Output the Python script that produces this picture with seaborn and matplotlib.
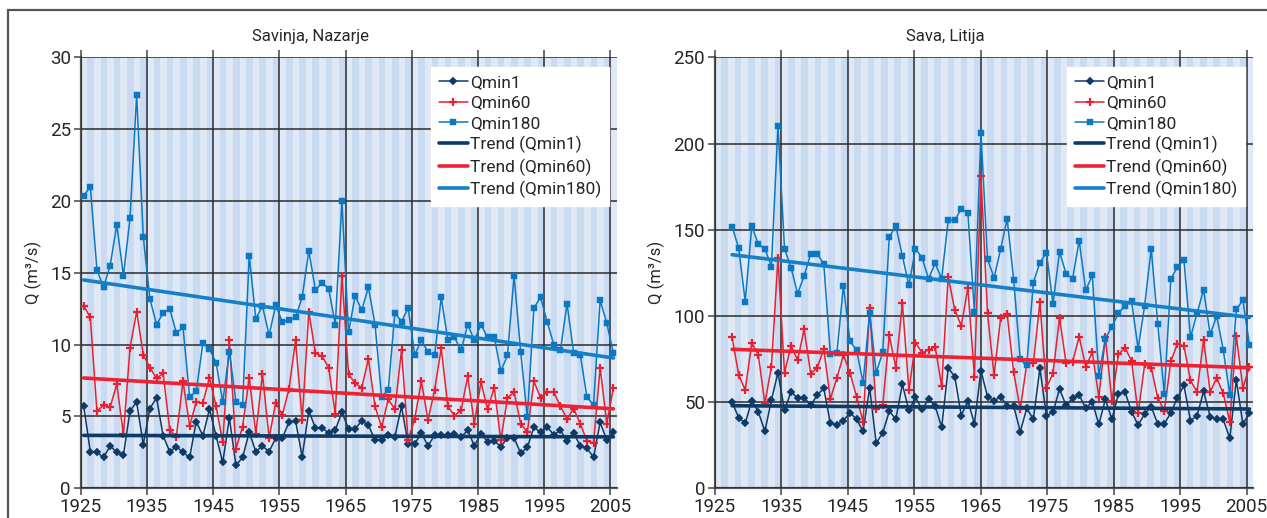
import numpy as np
import matplotlib
matplotlib.use("Agg")
import matplotlib.pyplot as plt
import seaborn as sns
from matplotlib.lines import Line2D

# Savinja, Nazarje (1925-2005)
years_left = np.arange(1925, 2006)
savinja_qmin1 = [5.75, 2.55, 2.5, 2.15, 2.95, 2.5, 2.3, 5.4, 6.0, 3.05,
                 5.55, 6.3, 3.65, 2.55, 2.9, 2.5, 2.15, 4.65, 3.65, 5.5,
                 3.65, 1.8, 4.9, 1.6, 2.15, 3.9, 2.55, 2.95, 2.55, 3.5,
                 3.5, 4.6, 4.7, 2.2, 5.4, 4.2, 4.2, 3.85, 4.05, 5.3,
                 4.15, 4.15, 4.7, 4.4, 3.35, 3.35, 3.7, 3.6, 5.7, 3.1,
                 3.1, 3.85, 2.95, 3.7, 3.7, 3.7, 3.8, 3.55, 4.05, 2.95,
                 3.8, 3.25, 3.3, 2.9, 3.5, 3.5, 2.45, 2.85, 4.25, 3.9,
                 4.3, 3.7, 4.05, 3.3, 3.85, 2.95, 2.8, 2.15, 4.6, 3.35, 3.9]
savinja_qmin60 = [12.7, 11.9, 5.35, 5.8, 5.65, 7.25, 3.75, 9.8, 12.3, 9.3,
                  8.4, 7.65, 8.0, 4.05, 3.6, 7.45, 4.35, 6.0, 5.95, 7.7,
                  5.7, 3.2, 10.3, 2.75, 4.3, 7.7, 3.8, 7.95, 3.5, 5.95,
                  5.1, 6.9, 10.3, 4.75, 12.3, 9.4, 9.2, 8.4, 5.15, 14.8,
                  7.95, 7.3, 7.0, 9.0, 5.7, 4.25, 6.2, 5.5, 9.6, 3.35,
                  4.85, 7.45, 4.75, 6.85, 9.75, 5.7, 5.05, 5.45, 7.8, 4.5,
                  7.4, 5.5, 7.0, 3.35, 6.3, 6.7, 4.5, 3.9, 7.45, 6.3,
                  6.7, 6.7, 5.7, 4.85, 5.55, 4.5, 3.3, 3.15, 8.4, 4.5, 7.0]
savinja_qmin180 = [20.35, 21.0, 15.2, 14.0, 15.5, 18.35, 14.8, 18.8, 27.4, 17.5,
                   13.2, 11.4, 12.2, 12.5, 10.8, 11.2, 6.35, 6.75, 10.1, 9.7,
                   8.75, 6.0, 9.5, 6.0, 5.8, 16.2, 11.8, 12.7, 10.65, 12.75,
                   11.6, 11.7, 11.9, 13.3, 16.55, 13.8, 14.3, 13.9, 11.4, 20.0,
                   10.85, 13.4, 12.4, 14.0, 11.4, 6.35, 6.85, 12.2, 11.6, 12.55,
                   9.3, 10.3, 9.5, 9.25, 13.3, 10.3, 10.5, 9.6, 11.4, 10.3,
                   11.4, 10.5, 10.55, 8.15, 9.25, 14.8, 9.5, 4.95, 12.55, 13.3,
                   11.6, 10.0, 9.6, 12.85, 9.4, 9.3, 6.35, 5.8, 13.1, 11.5, 9.4]

# Sava, Litija (1927-2006)
years_right = np.arange(1927, 2007)
sava_qmin1 = [49.9, 41.0, 37.7, 50.9, 44.3, 33.1, 51.2, 67.1, 45.4, 56.1,
              52.2, 52.6, 48.1, 54.1, 58.0, 37.7, 36.9, 39.3, 43.9, 40.0,
              33.1, 58.4, 26.1, 32.3, 44.7, 40.2, 60.3, 45.2, 52.8, 45.8,
              51.6, 47.8, 35.4, 69.8, 64.8, 42.2, 50.7, 37.5, 68.3, 53.2,
              50.7, 53.2, 47.8, 47.8, 32.9, 46.4, 40.0, 69.6, 42.2, 44.1,
              57.6, 48.1, 52.2, 54.1, 46.4, 50.3, 37.1, 51.6, 40.0, 54.9,
              55.9, 44.5, 36.7, 43.1, 47.4, 37.3, 37.3, 43.9, 52.6, 59.7,
              39.3, 42.0, 56.3, 41.6, 40.0, 40.0, 29.0, 62.8, 37.3, 43.5]
sava_qmin60 = [87.6, 65.9, 57.0, 84.5, 77.3, 49.3, 70.6, 133.4, 67.1, 82.6,
               74.4, 92.2, 66.5, 70.0, 80.8, 51.8, 64.0, 77.3, 67.1, 53.2,
               38.7, 104.8, 45.8, 48.3, 88.7, 70.0, 107.3, 56.8, 84.5, 78.7,
               80.2, 82.2, 59.4, 122.8, 103.4, 94.2, 116.4, 64.8, 181.2, 101.5,
               65.7, 98.6, 101.1, 67.3, 45.8, 72.5, 72.5, 107.9, 58.4, 66.7,
               99.0, 72.5, 73.5, 88.0, 70.6, 78.9, 53.0, 87.6, 50.7, 77.7,
               81.6, 73.9, 43.5, 71.9, 70.0, 52.4, 44.9, 73.7, 83.9, 82.6,
               62.6, 55.9, 86.0, 55.9, 64.0, 55.1, 38.7, 88.4, 58.2, 70.6]
sava_qmin180 = [151.8, 139.4, 108.3, 152.2, 141.5, 139.0, 128.6, 210.2, 139.0, 128.0,
                112.9, 123.2, 136.1, 136.1, 130.1, 78.1, 78.7, 117.4, 85.3, 80.2,
                61.3, 101.9, 67.1, 78.9, 145.8, 152.2, 134.8, 117.8, 139.0, 133.8,
                121.6, 130.5, 121.6, 155.6, 155.6, 162.2, 159.9, 102.5, 206.3, 132.8,
                122.2, 138.6, 156.4, 120.8, 74.8, 71.7, 119.3, 130.9, 136.7, 107.1,
                137.1, 124.5, 121.6, 143.7, 114.8, 123.7, 65.4, 86.8, 93.8, 101.5,
                106.0, 108.5, 81.0, 106.0, 139.0, 95.5, 54.7, 121.6, 128.2, 132.6,
                87.6, 101.5, 115.2, 89.3, 99.9, 80.4, 54.3, 103.8, 109.2, 83.3]

series_names = ["Qmin1", "Qmin60", "Qmin180"]
line_colors = ["#0e3a66", "#e8202f", "#0a78c2"]
trend_colors = ["#0e3a66", "#ee2233", "#1580c8"]
stripe_light = "#dfe8f5"
stripe_dark = "#c9daf1"

sns.set_style("ticks")
plt.rcParams["font.family"] = ["Roboto", "DejaVu Sans"]

fig = plt.figure(figsize=(12.67, 5.18), dpi=100)
ax_l = fig.add_axes([0.0637, 0.0573, 0.4233, 0.832])
ax_r = fig.add_axes([0.5642, 0.0573, 0.4250, 0.832])

# outer frame
fig.add_artist(Line2D([8 / 1267, 1.0], [1 - 10 / 518, 1 - 10 / 518],
                      transform=fig.transFigure, color="#555555", lw=1.6))
fig.add_artist(Line2D([8 / 1267, 8 / 1267], [0.0, 1 - 10 / 518],
                      transform=fig.transFigure, color="#555555", lw=1.6))


def draw_panel(ax, x, values, title, ymax, ystep):
    ax.set_facecolor(stripe_light)
    for yr in range(1925, 2006, 2):
        ax.axvspan(yr + 1, yr + 2, color=stripe_dark, lw=0, zorder=0)

    markers = ["D", "+", "s"]
    msizes = [4.5, 6, 5]
    for name, v, c, m, ms in zip(series_names, values, line_colors, markers, msizes):
        sns.lineplot(x=x, y=v, ax=ax, color=c, marker=m, markersize=ms,
                     markeredgewidth=1.6 if m == "+" else 0.3,
                     markeredgecolor=c, lw=1.1, label=name, zorder=3)
    for name, v, c in zip(series_names, values, trend_colors):
        sns.regplot(x=x, y=np.array(v), ax=ax, scatter=False, ci=None,
                    truncate=True, color=c, label=f"Trend ({name})",
                    line_kws={"lw": 2.6, "zorder": 4})

    ax.set_xlim(1925, 2006)
    ax.set_ylim(0, ymax)
    ax.set_xticks(range(1925, 2006, 10))
    ax.set_yticks(np.arange(0, ymax + 1, ystep))
    ax.grid(True, color="#2b2b2b", lw=1.1, zorder=1)
    ax.set_axisbelow(False)
    for side in ["top", "right"]:
        ax.spines[side].set_visible(False)
    for side in ["left", "bottom"]:
        ax.spines[side].set_color("#555555")
        ax.spines[side].set_linewidth(1.6)
    ax.tick_params(axis="both", labelsize=13.5, length=5, width=1.1,
                   color="#444444", pad=2)
    ax.tick_params(axis="x", top=True, labeltop=False)
    ax.set_xlabel("")
    ax.set_ylabel("Q (m³/s)", fontsize=12, labelpad=6)
    ax.text(0.4276, 1.049, title, transform=ax.transAxes, ha="center",
            va="center", fontsize=12)
    leg = ax.legend(loc="upper right", bbox_to_anchor=(0.985, 0.977),
                    fontsize=12.5, frameon=True, fancybox=False,
                    handlelength=1.7, handletextpad=0.1, labelspacing=0.3,
                    borderpad=0.45, borderaxespad=0.0)
    leg.get_frame().set_facecolor("white")
    leg.get_frame().set_edgecolor("white")
    leg.get_frame().set_alpha(1)
    leg.set_zorder(10)


draw_panel(ax_l, years_left + 0.45,
           [savinja_qmin1, savinja_qmin60, savinja_qmin180],
           "Savinja, Nazarje", 30, 5)
draw_panel(ax_r, 1927.6 + (years_right - 1927) * 0.985,
           [sava_qmin1, sava_qmin60, sava_qmin180],
           "Sava, Litija", 250, 50)

fig.savefig("out.png", dpi=100)
